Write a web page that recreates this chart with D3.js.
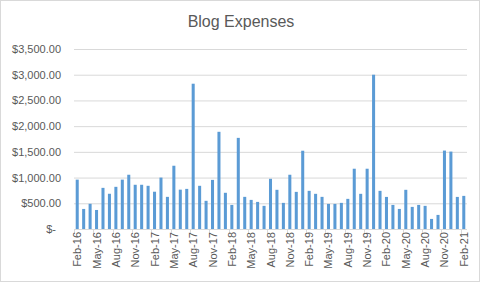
<!DOCTYPE html>
<html><head><meta charset="utf-8">
<script src="https://cdn.jsdelivr.net/npm/d3@7"></script>
<style>body{margin:0;background:#fff}svg{display:block}text{font-family:"Liberation Sans",Arial,sans-serif;fill:#595959}</style>
</head><body><svg id="c" width="484" height="284"></svg>
<script>
const months = ["Feb-16","Mar-16","Apr-16","May-16","Jun-16","Jul-16","Aug-16","Sep-16","Oct-16","Nov-16","Dec-16","Jan-17",
"Feb-17","Mar-17","Apr-17","May-17","Jun-17","Jul-17","Aug-17","Sep-17","Oct-17","Nov-17","Dec-17","Jan-18",
"Feb-18","Mar-18","Apr-18","May-18","Jun-18","Jul-18","Aug-18","Sep-18","Oct-18","Nov-18","Dec-18","Jan-19",
"Feb-19","Mar-19","Apr-19","May-19","Jun-19","Jul-19","Aug-19","Sep-19","Oct-19","Nov-19","Dec-19","Jan-20",
"Feb-20","Mar-20","Apr-20","May-20","Jun-20","Jul-20","Aug-20","Sep-20","Oct-20","Nov-20","Dec-20","Jan-21","Feb-21"];
const expenses = [960,390,490,370,800,685,820,960,1055,860,860,840,
725,1000,625,1230,765,780,2825,840,548,955,1890,704,
468,1772,625,566,527,450,976,762,508,1055,722,1522,
742,684,625,488,488,508,586,1172,684,1172,3000,742,
624,468,390,762,430,468,450,196,274,1525,1505,624,644];
const yTicks = [0,500,1000,1500,2000,2500,3000,3500];
const title = "Blog Expenses";

const svg = d3.select("#c");
const L = 74, R = 467, T = 49, B = 229;
svg.append("rect").attr("x",0.5).attr("y",0.5).attr("width",479).attr("height",281)
  .attr("fill","#fff").attr("stroke","#d9d9d9");

const x = d3.scaleBand().domain(d3.range(months.length)).range([L,R]).paddingInner(0.53).paddingOuter(0.265);
const y = d3.scaleLinear().domain([0,3500]).range([B,T]);

// gridlines + y labels
const fmt = d3.format("$,.2f");
const ya = svg.append("g").attr("transform",`translate(${L},0)`)
  .call(d3.axisLeft(y).tickValues(yTicks).tickSizeInner(-(R-L)).tickSizeOuter(0).tickPadding(13)
    .tickFormat(v => v===0 ? "$-" : fmt(v)));
ya.select(".domain").remove();
ya.selectAll(".tick line").attr("stroke","#d9d9d9");
ya.selectAll(".tick text").attr("font-size",11).attr("fill","#595959")
  .attr("font-family","Liberation Sans, Arial, sans-serif")
  .attr("dx", v => v===0 ? -5 : 0);

// bars
svg.append("g").selectAll("rect").data(expenses).join("rect")
  .attr("x",(d,i)=>x(i)).attr("width",x.bandwidth())
  .attr("y",d=>y(d)).attr("height",d=>y(0)-y(d)).attr("fill","#5b9bd5");

// x axis
const xa = svg.append("g");
xa.append("line").attr("x1",L).attr("x2",R).attr("y1",B+0.5).attr("y2",B+0.5).attr("stroke","#d9d9d9");
const step = x.step(), start = x(0) - step*x.paddingInner()/2;
const labelIdx = d3.range(0, months.length, 3);
xa.selectAll("line.t").data(labelIdx).join("line").attr("class","t")
  .attr("x1",i=>Math.round(start + i*step)+0.5).attr("x2",i=>Math.round(start + i*step)+0.5)
  .attr("y1",B).attr("y2",B+5).attr("stroke","#d9d9d9");
xa.selectAll("text").data(labelIdx).join("text")
  .attr("transform",i=>`translate(${x(i)+x.bandwidth()/2+4},${B+3}) rotate(-90)`)
  .attr("text-anchor","end").attr("font-size",11).text(i=>months[i]);

svg.append("text").attr("x",241).attr("y",27).attr("text-anchor","middle")
  .attr("font-size",16).text(title);
</script></body></html>
